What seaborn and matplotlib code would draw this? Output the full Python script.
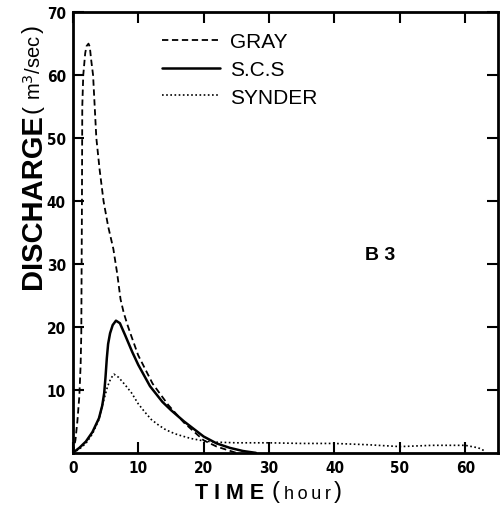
import matplotlib
matplotlib.use('Agg')
import matplotlib.pyplot as plt
import seaborn as sns
import pandas as pd

# hydrograph values
gray_t = [0, 0.4, 0.7, 1.0, 1.2, 1.3, 1.4, 1.45, 1.6, 1.9, 2.1, 2.4, 2.6, 2.8, 3.1, 3.35, 3.6, 4.1, 4.7, 5.4, 6.2, 6.8, 7.3, 7.8, 8.4, 9.0, 10.0, 12.2, 14.6, 17.0, 20.0, 22.0, 25.0]
gray_q = [0, 2, 5, 9, 14, 19, 40, 55, 60, 63.5, 64.6, 65, 64.5, 62.5, 60, 55, 50, 45, 40, 36, 32.4, 28.4, 24.4, 22.2, 20.2, 18.4, 15.5, 11, 7.6, 4.8, 2.0, 1.0, 0]
scs_t = [0, 1, 2, 3, 4, 4.5, 4.8, 5.0, 5.2, 5.4, 5.7, 6.1, 6.6, 7.2, 8.0, 9.1, 10.0, 11.8, 13.7, 15.0, 17.0, 18.0, 20.0, 22.0, 24.0, 26.0, 28.0]
scs_q = [0, 0.8, 1.8, 3.3, 5.5, 7.5, 9.5, 12, 15, 17.3, 19, 20.3, 21, 20.6, 18.7, 16, 14, 10.6, 8.1, 6.8, 5.0, 4.2, 2.6, 1.5, 0.8, 0.3, 0]
synder_t = [0, 1, 2, 3, 4.0, 4.5, 4.8, 5.3, 5.8, 6.3, 7.0, 8.0, 9.0, 10.0, 11.0, 12.0, 13.0, 14.0, 15.0, 16.0, 18.0, 20.0, 22.0, 25.0, 30.0, 35.0, 40.0, 45.0, 50.0, 55.0, 60.0, 62.0, 63.0]
synder_q = [0, 0.6, 1.5, 3.0, 5.3, 7.5, 8.6, 10.5, 11.8, 12.5, 12, 10.8, 9.5, 7.8, 6.5, 5.3, 4.5, 3.8, 3.3, 2.9, 2.3, 1.9, 1.7, 1.6, 1.6, 1.5, 1.5, 1.3, 1.0, 1.2, 1.2, 0.8, 0.3]

x_ticks = [0, 10, 20, 30, 40, 50, 60]
y_ticks = [10, 20, 30, 40, 50, 60, 70]

df = pd.concat([
    pd.DataFrame({'t': gray_t, 'q': gray_q, 'model': 'GRAY'}),
    pd.DataFrame({'t': scs_t, 'q': scs_q, 'model': 'S.C.S'}),
    pd.DataFrame({'t': synder_t, 'q': synder_q, 'model': 'SYNDER'}),
], ignore_index=True)

sns.set_style('ticks', {'axes.edgecolor': 'black', 'xtick.color': 'black',
                        'ytick.color': 'black', 'text.color': 'black'})
plt.rcParams['font.family'] = ['Liberation Sans', 'DejaVu Sans']

W, H = 502, 506
fig = plt.figure(figsize=(W / 100, H / 100), dpi=100)
ax = fig.add_axes([0.145, 0.103, 0.847, 0.871])


def px(x, y):
    # pixel position -> figure fraction
    return x / W, 1 - y / H


styles = {'GRAY': (0, (3.5, 2)), 'S.C.S': '-', 'SYNDER': (0, (1, 1.5))}
widths = {'GRAY': 1.3, 'S.C.S': 1.8, 'SYNDER': 1.2}
for name, sub in df.groupby('model', sort=False):
    sns.lineplot(data=sub, x='t', y='q', ax=ax, color='black', sort=False,
                 linestyle=styles[name], linewidth=widths[name], label=name, estimator=None)

ax.set_xlim(0, 65)
ax.set_ylim(0, 70)
ax.set_xticks(x_ticks)
ax.set_yticks(y_ticks)
ax.tick_params(direction='in', length=8, width=1.5, top=True, right=True,
               labelsize=11, pad=5, colors='black')
for lab in ax.get_xticklabels() + ax.get_yticklabels():
    lab.set_fontweight('bold')
    lab.set_family('DejaVu Sans')
    lab.set_fontstretch('condensed')
for sp in ax.spines.values():
    sp.set_linewidth(2)
    sp.set_visible(True)
    sp.set_color('black')

ax.set_xlabel('')
ax.set_ylabel('')

# x axis title: big bold TIME, small "hour" between tall brackets
fig.text(*px(195, 499), 'T I M E', fontsize=15.5, fontweight='bold', ha='left', va='baseline')
fig.text(*px(276, 492), '(', fontsize=17, ha='center', va='center')
fig.text(*px(284, 499), 'h\u2009o\u2009u\u2009r', fontsize=13, ha='left', va='baseline',
         family=['Liberation Sans', 'DejaVu Sans'])
fig.text(*px(338, 492), ')', fontsize=17, ha='center', va='center')

# y axis title
fig.text(*px(33, 202), 'DISCHARGE', fontsize=21, fontweight='bold', rotation=90,
         ha='center', va='center')
fig.text(*px(33, 109), '(', fontsize=17, rotation=90, ha='center', va='center')
fig.text(*px(34, 68), 'm$^3$/sec', fontsize=14.5, rotation=90, ha='center', va='center')
fig.text(*px(33, 29), ')', fontsize=17, rotation=90, ha='center', va='center')

ax.text(0.687, 0.45, 'B 3', transform=ax.transAxes, fontsize=14, fontweight='bold',
        va='center')

leg = ax.legend(loc='upper left', bbox_to_anchor=(0.165, 0.997), frameon=False,
                fontsize=15, handlelength=2.8, handletextpad=0.5, labelspacing=0.42)

fig.savefig('out.png', dpi=100)
